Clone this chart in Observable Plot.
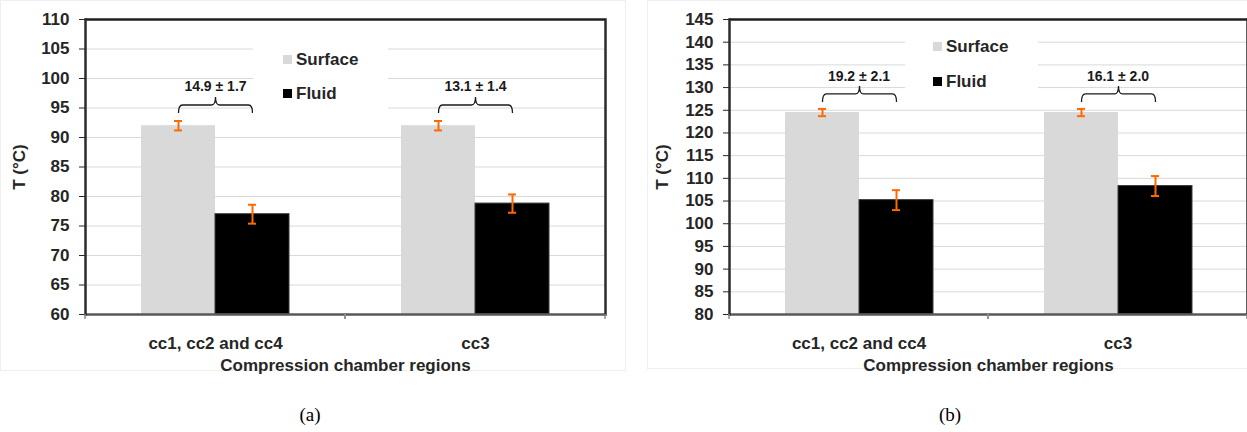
<!DOCTYPE html>
<html>
<head>
<meta charset="utf-8">
<script src="https://cdn.jsdelivr.net/npm/d3@7"></script>
<script src="https://cdn.jsdelivr.net/npm/@observablehq/plot@0.6"></script>
<style>
  html, body { margin: 0; padding: 0; background: #fff; }
  #wrap { position: relative; width: 1247px; height: 432px; overflow: hidden; font-family: "Liberation Sans", Arial, sans-serif; }
  .panel { position: absolute; top: 0; }
  .area { position: absolute; border: 1px solid #efefef; box-sizing: border-box; }
  .legend { position: absolute; background: #fff; font-weight: bold; font-size: 17px; color: #262626; }
  .legend .row { position: absolute; left: 0; white-space: nowrap; line-height: 20px; }
  .legend .sw { display: inline-block; width: 9px; height: 9px; margin-right: 4px; vertical-align: 1px; }
  .cap { position: absolute; font-family: "Liberation Serif", "Times New Roman", serif; font-size: 19px; color: #000; transform: translateX(-50%); }
  svg [aria-label="y-axis tick"] { stroke: #8c8c8c; }
</style>
</head>
<body>
<div id="wrap">
  <div class="area" style="left:0;top:0;width:626px;height:371px"></div>
  <div class="area" style="left:647px;top:0;width:620px;height:369px"></div>
  <div class="panel" id="pa" style="left:0"></div>
  <div class="panel" id="pb" style="left:620px"></div>
  <div class="legend" style="left:253px;top:30px;width:135px;height:86px">
    <div class="row" style="left:30px;top:20px"><span class="sw" style="background:#d9d9d9"></span><span class="lab-s"></span></div>
    <div class="row" style="left:30px;top:54px"><span class="sw" style="background:#000"></span><span class="lab-f"></span></div>
  </div>
  <div class="legend" style="left:905px;top:28px;width:133px;height:72px">
    <div class="row" style="left:28px;top:9px"><span class="sw" style="background:#d9d9d9"></span><span class="lab-s"></span></div>
    <div class="row" style="left:28px;top:44px"><span class="sw" style="background:#000"></span><span class="lab-f"></span></div>
  </div>
  <div class="cap" style="left:310px;top:404px">(a)</div>
  <div class="cap" style="left:950px;top:404px">(b)</div>
</div>
<script>
// ---- data ----
const categories = ["cc1, cc2 and cc4", "cc3"];
const series = ["Surface", "Fluid"];
const seriesColors = ["#d9d9d9", "#000000"];

// panel (a)
const surfaceA = [92.0, 92.0];
const surfaceErrA = [0.8, 0.8];
const fluidA = [77.0, 78.8];
const fluidErrA = [1.6, 1.55];
const diffLabelsA = ["14.9 ± 1.7", "13.1 ± 1.4"];
const yTicksA = [60, 65, 70, 75, 80, 85, 90, 95, 100, 105, 110];

// panel (b)
const surfaceB = [124.5, 124.5];
const surfaceErrB = [0.8, 0.8];
const fluidB = [105.2, 108.3];
const fluidErrB = [2.2, 2.2];
const diffLabelsB = ["19.2 ± 2.1", "16.1 ± 2.0"];
const yTicksB = [80, 85, 90, 95, 100, 105, 110, 115, 120, 125, 130, 135, 140, 145];

const yLabel = "T (°C)";
const xLabel = "Compression chamber regions";

document.querySelectorAll(".lab-s").forEach(e => e.textContent = series[0]);
document.querySelectorAll(".lab-f").forEach(e => e.textContent = series[1]);

function braceCurve(context) {
  let pts = [];
  return {
    areaStart() {}, areaEnd() {},
    lineStart() { pts = []; },
    point(x, y) { pts.push([x, y]); },
    lineEnd() {
      if (pts.length < 2) return;
      const [[x0, y], [x1]] = pts;
      const h = 8, r = 4, mid = (x0 + x1) / 2;
      context.moveTo(x0, y + h);
      context.quadraticCurveTo(x0, y, x0 + r, y);
      context.lineTo(mid - r, y);
      context.quadraticCurveTo(mid, y, mid, y - h);
      context.quadraticCurveTo(mid, y, mid + r, y);
      context.lineTo(x1 - r, y);
      context.quadraticCurveTo(x1, y, x1, y + h);
    }
  };
}

function boundaryTicks(index, scales, values, dims) {
  const g = d3.create("svg:g");
  const yb = dims.height - dims.marginBottom;
  for (const x of [dims.marginLeft, dims.width - dims.marginRight]) {
    g.append("line").attr("x1", x).attr("x2", x).attr("y1", yb).attr("y2", yb + 5)
      .attr("stroke", "#8c8c8c").attr("stroke-width", 1.5);
  }
  return g.node();
}

function makePanel({surface, surfaceErr, fluid, fluidErr, diffLabels, yTicks, width, marginLeft, marginRight, labelOffset, braceDy, textDy}) {
  const rows = [];
  categories.forEach((c, i) => {
    rows.push({cat: c, s: series[0], v: surface[i], e: surfaceErr[i]});
    rows.push({cat: c, s: series[1], v: fluid[i], e: fluidErr[i]});
  });
  const ann = categories.map((c, i) => ({
    cat: c, label: diffLabels[i],
    top: surface[i] + surfaceErr[i]
  }));
  const yMin = yTicks[0], yMax = yTicks[yTicks.length - 1];
  return Plot.plot({
    width, height: 380,
    marginTop: 19, marginBottom: 66, marginLeft, marginRight,
    style: {fontFamily: "Liberation Sans, Arial, sans-serif", fontSize: "17px", fontWeight: "bold", color: "#262626", background: "transparent"},
    fx: {domain: categories, padding: 0, axis: "bottom", tickSize: 0, tickPadding: 22, label: xLabel, labelAnchor: "center", labelOffset: 56},
    x: {domain: series, paddingInner: 0, paddingOuter: 0.745, axis: null},
    y: {domain: [yMin, yMax], ticks: yTicks, tickSize: 6, tickPadding: 10, label: yLabel, labelAnchor: "center", labelOffset: labelOffset, labelArrow: "none"},
    color: {domain: series, range: seriesColors},
    marks: [
      Plot.ruleY(yTicks.slice(1, -1), {stroke: "#d9d9d9", strokeWidth: 1}),
      Plot.barY(rows, {fx: "cat", x: "s", y1: yMin, y2: "v", fill: "s"}),
      Plot.barY(rows, {filter: d => d.s === series[1], fx: "cat", x: "s", y1: yMin, y2: "v", fill: "none", stroke: "#3a3a3a", strokeWidth: 1}),
      Plot.ruleX(rows, {fx: "cat", x: "s", y1: d => d.v - d.e, y2: d => d.v + d.e, stroke: "#ff6a00", strokeWidth: 2}),
      Plot.tickY(rows, {fx: "cat", x: "s", y: d => d.v - d.e, stroke: "#ff6a00", strokeWidth: 2, insetLeft: 33, insetRight: 33}),
      Plot.tickY(rows, {fx: "cat", x: "s", y: d => d.v + d.e, stroke: "#ff6a00", strokeWidth: 2, insetLeft: 33, insetRight: 33}),
      Plot.link(ann, {fx: "cat", x1: () => series[0], x2: () => series[1], y1: "top", y2: "top", dy: braceDy, curve: braceCurve, stroke: "#1a1a1a", strokeWidth: 1.3}),
      Plot.text(ann, {fx: "cat", y: "top", text: "label", dy: textDy, fontSize: 14, fontWeight: "bold", fill: "#1a1a1a"}),
      Plot.ruleY([yMax], {stroke: "#1f1f1f", strokeWidth: 2.5}),
      Plot.ruleY([yMin], {stroke: "#595959", strokeWidth: 2.5}),
      Plot.frame({anchor: "left", facetAnchor: "left", stroke: "#2b2b2b", strokeWidth: 2.5}),
      Plot.frame({anchor: "right", facetAnchor: "right", stroke: "#2b2b2b", strokeWidth: 2.5}),
      boundaryTicks
    ]
  });
}

document.getElementById("pa").append(makePanel({
  surface: surfaceA, surfaceErr: surfaceErrA, fluid: fluidA, fluidErr: fluidErrA,
  diffLabels: diffLabelsA, yTicks: yTicksA, width: 620, marginLeft: 84, marginRight: 15,
  labelOffset: 73, braceDy: -16, textDy: -34
}));
document.getElementById("pb").append(makePanel({
  surface: surfaceB, surfaceErr: surfaceErrB, fluid: fluidB, fluidErr: fluidErrB,
  diffLabels: diffLabelsB, yTicks: yTicksB, width: 627, marginLeft: 109, marginRight: 0,
  labelOffset: 74, braceDy: -15, textDy: -32
}));
</script>
</body>
</html>
